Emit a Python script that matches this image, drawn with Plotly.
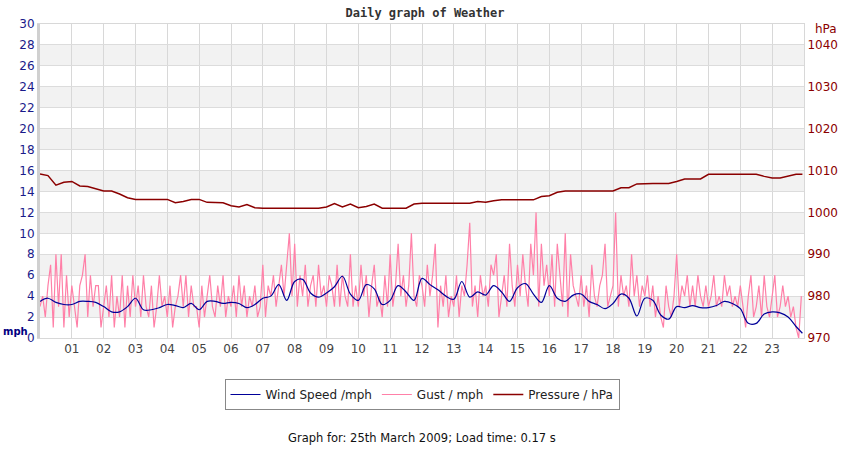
import plotly.graph_objects as go

# wind speed, mph, one reading every 15 minutes (last one just before midnight)
wind_hours = [i * 0.25 for i in range(96)] + [23.95]
wind_mph = [
    3.5, 3.8, 3.4, 3.2, 3.2, 3.5, 3.5, 3.4, 3.0, 2.5, 2.5, 3.0,
    3.8, 2.7, 2.7, 2.9, 3.2, 3.1, 2.9, 3.3, 2.7, 3.5, 3.5, 3.3,
    3.4, 3.3, 2.9, 3.2, 3.8, 4.0, 5.1, 3.6, 5.4, 5.6, 4.3, 3.9,
    4.3, 4.9, 5.9, 4.2, 3.6, 5.1, 4.7, 3.2, 3.6, 5.0, 4.4, 3.6,
    5.7, 5.1, 4.6, 4.0, 3.7, 5.4, 3.9, 4.4, 4.1, 5.0, 4.4, 3.5,
    4.8, 5.2, 4.2, 3.4, 5.0, 3.8, 3.5, 4.1, 4.2, 3.5, 3.2, 2.8,
    3.3, 4.2, 3.8, 2.1, 3.8, 3.6, 2.2, 1.8, 3.0, 2.9, 3.1, 2.9,
    2.9, 3.1, 3.5, 3.3, 2.8, 1.4, 1.4, 2.3, 2.5, 2.4, 2.0, 1.1,
    0.45,
]

# gusts, mph, one reading every 5 minutes
gust_hours = [i / 12 for i in range(288)]
gust_mph = [
    3, 4, 2, 5, 7, 1, 8, 3, 8, 1, 6, 2,
    5, 3, 1, 5, 6, 8, 2, 6, 3, 5, 5, 1,
    3, 5, 2, 6, 1, 4, 2, 6, 1, 5, 2, 6,
    3, 5, 2, 6, 3, 2, 5, 1, 3, 6, 3, 4,
    2, 5, 1, 3, 4, 6, 3, 6, 2, 5, 3, 3,
    1, 5, 2, 4, 6, 3, 2, 5, 3, 6, 2, 4,
    3, 5, 2, 6, 3, 5, 2, 4, 3, 5, 2, 3,
    7, 2, 5, 4, 6, 3, 5, 7, 4, 7, 10, 4,
    9, 3, 6, 4, 7, 3, 5, 6, 3, 7, 4, 5,
    3, 6, 5, 3, 7, 3, 6, 4, 3, 8, 3, 5,
    3, 7, 4, 6, 2, 5, 7, 3, 4, 2, 6, 3,
    8, 3, 5, 9, 4, 6, 3, 5, 10, 4, 3, 6,
    5, 3, 7, 4, 6, 9, 1, 5, 3, 6, 2, 4,
    3, 6, 2, 5, 4, 7, 11, 3, 5, 2, 6, 4,
    5, 3, 7, 6, 8, 2, 4, 6, 3, 9, 5, 3,
    7, 4, 8, 5, 3, 9, 6, 12, 3, 9, 5, 7,
    4, 8, 3, 9, 6, 3, 10, 2, 8, 5, 4, 3,
    6, 3, 5, 2, 7, 4, 3, 5, 6, 9, 3, 4,
    5, 12, 3, 6, 4, 5, 3, 8, 4, 6, 3, 5,
    4, 6, 3, 5, 2, 4, 2, 1, 5, 3, 2, 4,
    8, 3, 5, 4, 6, 3, 5, 3, 6, 4, 3, 5,
    3, 4, 6, 3, 4, 3, 6, 4, 5, 3, 4, 3,
    5, 3, 1, 4, 6, 2, 3, 5, 2, 6, 3, 2,
    4, 6, 2, 3, 5, 3, 4, 2, 3, 1, 0, 4,
]

# pressure, hPa, every 15 minutes
pres_hours = [i * 0.25 for i in range(96)] + [23.95]
pres_hpa = [
    1009.2, 1008.8, 1006.5, 1007.2, 1007.4, 1006.3, 1006.2, 1005.6,
    1005.1, 1005.1, 1004.4, 1003.5, 1003.1, 1003.1, 1003.1, 1003.1,
    1003.1, 1002.3, 1002.6, 1003.1, 1003.1, 1002.4, 1002.3, 1002.3,
    1001.6, 1001.3, 1001.9, 1001.1, 1001.0, 1001.0, 1001.0, 1001.0,
    1001.0, 1001.0, 1001.0, 1001.0, 1001.3, 1002.1, 1001.3, 1002.0,
    1001.1, 1001.4, 1002.0, 1001.0, 1001.0, 1001.0, 1001.0, 1002.0,
    1002.2, 1002.2, 1002.2, 1002.2, 1002.2, 1002.2, 1002.2, 1002.6,
    1002.4, 1002.8, 1003.0, 1003.0, 1003.0, 1003.0, 1003.0, 1003.8,
    1004.0, 1004.8, 1005.1, 1005.1, 1005.1, 1005.1, 1005.1, 1005.1,
    1005.1, 1005.9, 1005.9, 1006.8, 1006.9, 1006.9, 1006.9, 1006.9,
    1007.4, 1008.0, 1008.0, 1008.0, 1009.1, 1009.1, 1009.1, 1009.1,
    1009.1, 1009.1, 1009.1, 1008.6, 1008.2, 1008.2, 1008.6, 1009.1,
    1009.1,
]

hour_ticks = list(range(1, 24))
hour_labels = ["%02d" % h for h in hour_ticks]
mph_ticks = list(range(0, 31, 2))
hpa_ticks = list(range(970, 1041, 10))

navy = "#1a1a8a"
darkred = "#8b0000"

fig = go.Figure()
fig.add_trace(go.Scatter(x=gust_hours, y=gust_mph, name="Gust / mph", mode="lines",
                         line=dict(color="#ff80a8", width=1.2), legendrank=2))
fig.add_trace(go.Scatter(x=wind_hours, y=wind_mph, name="Wind Speed /mph", mode="lines",
                         line=dict(color="#000099", width=1.2, shape="spline"), legendrank=1))
fig.add_trace(go.Scatter(x=pres_hours, y=pres_hpa, name="Pressure / hPa", mode="lines",
                         line=dict(color=darkred, width=1.5), yaxis="y2", legendrank=3))

# alternating grey bands
for lo in range(2, 30, 4):
    fig.add_shape(type="rect", xref="paper", x0=0, x1=1, yref="y", y0=lo, y1=lo + 2,
                  fillcolor="#f2f2f2", line_width=0, layer="below")

fig.update_layout(
    width=850, height=450,
    margin=dict(l=40, r=38, t=24, b=112),
    plot_bgcolor="white", paper_bgcolor="white",
    font=dict(family="DejaVu Sans", size=12, color="#333"),
    title=dict(text="<b>Daily graph of Weather</b>", x=0.5, xanchor="center",
               y=0.971, yanchor="middle",
               font=dict(family="DejaVu Sans Mono", size=12, color="#333")),
    xaxis=dict(range=[0, 24], tickvals=hour_ticks, ticktext=hour_labels,
               showgrid=True, gridcolor="#d8d8d8", gridwidth=1,
               showline=True, mirror=True, linecolor="#d8d8d8", zeroline=False,
               ticks="", tickfont=dict(size=12, color="#444")),
    yaxis=dict(range=[0, 30], tickvals=mph_ticks, showgrid=True, gridcolor="#dcdcdc",
               showline=True, linecolor="#d0d0d0", linewidth=3, zeroline=False,
               ticks="", tickfont=dict(size=12, color=navy)),
    yaxis2=dict(range=[970, 1045], tickvals=hpa_ticks, overlaying="y", side="right",
                showgrid=False, showline=True, linecolor="#d8d8d8", zeroline=False,
                ticks="", tickfont=dict(size=12, color=darkred)),
    legend=dict(orientation="h", x=0.5, xanchor="center", y=-0.18, yanchor="middle",
                bordercolor="#888", borderwidth=1, font=dict(size=12, color="#222"),
                traceorder="normal", itemwidth=30),
    showlegend=True,
)

fig.add_annotation(text="<b>mph</b>", xref="paper", yref="paper", x=-0.0505, y=0.022,
                   xanchor="left", yanchor="middle", showarrow=False,
                   font=dict(size=10, color="#000080"))
fig.add_annotation(text="hPa", xref="paper", yref="paper", x=1.012, y=0.984,
                   xanchor="left", yanchor="middle", showarrow=False,
                   font=dict(size=12, color=darkred))
fig.add_annotation(text="Graph for: 25th March 2009; Load time: 0.17 s",
                   xref="paper", yref="paper", x=0.5, y=-0.318, xanchor="center",
                   yanchor="middle", showarrow=False, font=dict(size=11.5, color="#111"))

# drop the default page margin so the figure sits at the window's corner
fig.write_html("out.html", config={"displayModeBar": False},
               post_script="document.body.style.margin='0';")
